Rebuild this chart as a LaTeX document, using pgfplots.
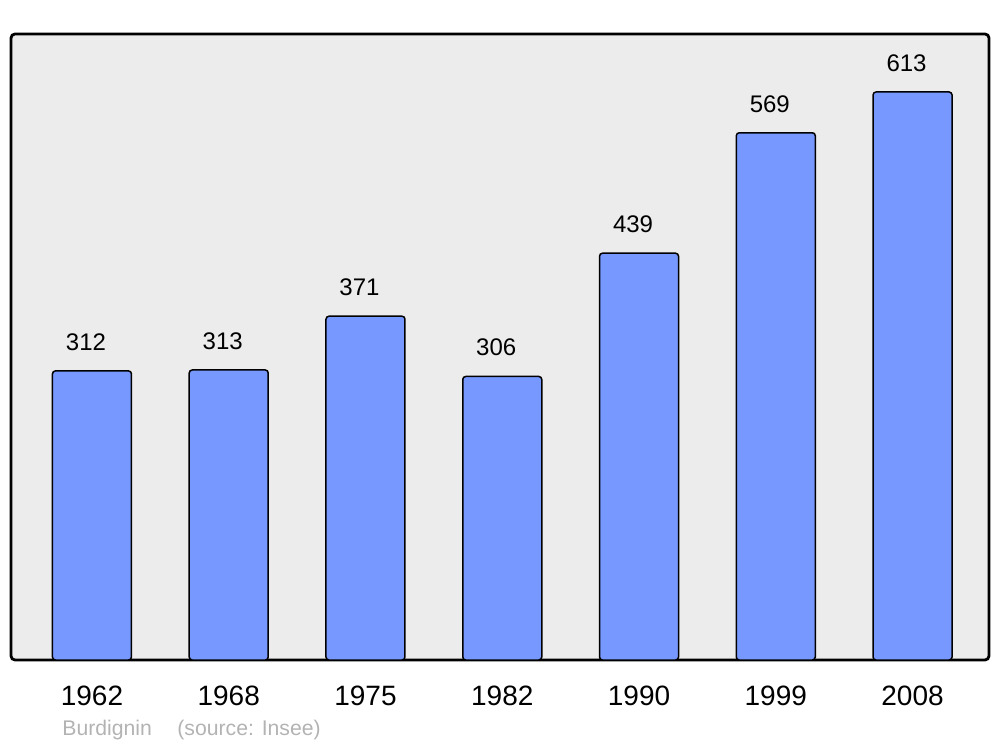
\documentclass[border=0pt]{standalone}
\usepackage{pgfplots}
\pgfplotsset{compat=1.18}
\usepackage{fontspec}
\setmainfont{Liberation Sans}
\definecolor{barblue}{HTML}{7799FF}
\definecolor{bggray}{HTML}{ECECEC}
\definecolor{srcgray}{HTML}{B3B3B3}
\begin{document}
\begin{tikzpicture}
\path[use as bounding box] (-5.5bp,-43.5bp) rectangle (494.5bp,330bp);
\begin{axis}[
  at={(0,0)}, anchor=south west,
  scale only axis, width=489bp, height=313bp,
  xmin=-0.592, xmax=6.559, ymin=0, ymax=675.6,
  axis line style={draw=none},
  axis background/.style={fill=bggray, draw=black, line width=1.4bp, rounded corners=2bp},
  xtick={0,1,2,3,4,5,6},
  xticklabels={1962,1968,1975,1982,1990,1999,2008},
  xtick style={draw=none},
  ytick=\empty,
  x tick label style={font=\fontsize{14bp}{16bp}\selectfont, yshift=-5bp},
  /pgf/number format/assume math mode=true,
  clip=false,
  ybar, bar width=39.5bp,
  nodes near coords,
  every node near coord/.append style={font=\fontsize{12bp}{14bp}\selectfont, xshift=-3bp, yshift=6.5bp},
]
\addplot[fill=barblue, draw=black, line width=0.75bp, rounded corners=1.5bp] coordinates {
(0,312) (1,313) (2,371) (3,306) (4,439) (5,569) (6,613)
};
\end{axis}
\node[anchor=west, text=srcgray, font=\fontsize{10.6bp}{12bp}\selectfont, inner sep=0pt] at (25.5bp,-35bp) {Burdignin\hspace{1.2em}(source: Insee)};
\end{tikzpicture}
\end{document}
